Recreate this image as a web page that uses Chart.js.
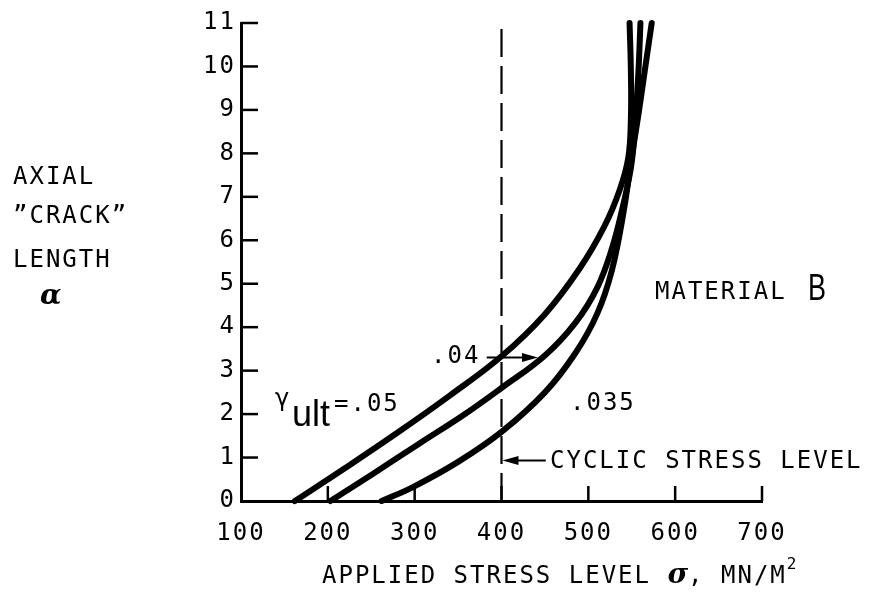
<!DOCTYPE html>
<html>
<head>
<meta charset="utf-8">
<script src="https://cdn.jsdelivr.net/npm/chart.js@4/dist/chart.umd.min.js"></script>
<style>
  body { margin: 0; background: #fff; }
</style>
</head>
<body>
<canvas id="chart" width="878" height="599"></canvas>
<script>
// axis ticks
const stressTicks = [100, 200, 300, 400, 500, 600, 700];
const crackTicks = [0, 1, 2, 3, 4, 5, 6, 7, 8, 9, 10, 11];

// gamma ult = .05
const g05Stress = [162, 220, 280, 340, 400, 450, 490, 518, 536, 546, 549, 549, 547.5];
const g05Crack  = [0, 0.76, 1.57, 2.42, 3.33, 4.3, 5.35, 6.3, 7.15, 7.9, 8.8, 9.9, 11];

// gamma ult = .04
const g04Stress = [203, 250, 306, 355, 400, 450, 485, 510, 527, 540, 550, 555, 558, 560];
const g04Crack  = [0, 0.6, 1.33, 1.96, 2.6, 3.35, 4.1, 4.9, 5.8, 6.8, 7.8, 9.0, 10.0, 11];

// gamma ult = .035
const g035Stress = [262, 298, 350, 400, 450, 485, 510, 527, 541, 549, 557, 565, 573];
const g035Crack  = [0, 0.32, 0.9, 1.59, 2.5, 3.4, 4.3, 5.3, 6.7, 7.8, 8.8, 9.9, 11];

// cyclic stress level marker
const cyclicStress = 400;
const cyclicRange = [0, 11];

function pts(xs, ys) {
    return xs.map((v, i) => ({x: v, y: ys[i]}));
}

const mono = '"DejaVu Sans Mono", monospace';

function curve(xs, ys) {
    return {
        data: pts(xs, ys),
        showLine: true,
        borderColor: '#000',
        borderWidth: 6,
        borderCapStyle: 'round',
        pointRadius: 0,
        tension: 0.4,
        fill: false,
        clip: false
    };
}

function arrowHead(ctx, x, y, dir) {
    ctx.beginPath();
    ctx.moveTo(x, y);
    ctx.lineTo(x - dir * 16, y - 4.5);
    ctx.lineTo(x - dir * 16, y + 4.5);
    ctx.closePath();
    ctx.fill();
}

const paperMarks = {
    id: 'paperMarks',
    beforeDraw(chart) {
        chart.ctx.letterSpacing = '2px';
    },
    afterDraw(chart) {
        const {ctx, chartArea: a, scales: {x, y}} = chart;
        ctx.save();
        ctx.strokeStyle = '#000';
        ctx.fillStyle = '#000';
        ctx.lineWidth = 2.5;

        // inward tick marks
        stressTicks.slice(1).forEach(v => {
            const px = x.getPixelForValue(v);
            ctx.beginPath();
            ctx.moveTo(px, a.bottom);
            ctx.lineTo(px, a.bottom - 15);
            ctx.stroke();
        });
        crackTicks.slice(1).forEach(v => {
            const py = y.getPixelForValue(v);
            ctx.beginPath();
            ctx.moveTo(a.left, py);
            ctx.lineTo(a.left + 17, py);
            ctx.stroke();
        });

        // .04 pointer
        ctx.lineWidth = 2;
        let y1 = y.getPixelForValue(3.3);
        let x1 = x.getPixelForValue(383), x2 = x.getPixelForValue(442);
        ctx.beginPath();
        ctx.moveTo(x1, y1);
        ctx.lineTo(x2 - 10, y1);
        ctx.stroke();
        arrowHead(ctx, x2, y1, 1);

        // cyclic stress level pointer
        y1 = y.getPixelForValue(0.93);
        x1 = x.getPixelForValue(451);
        x2 = x.getPixelForValue(cyclicStress) + 1;
        ctx.beginPath();
        ctx.moveTo(x1, y1);
        ctx.lineTo(x2 + 10, y1);
        ctx.stroke();
        arrowHead(ctx, x2, y1, -1);

        ctx.textBaseline = 'middle';
        ctx.textAlign = 'left';
        ctx.letterSpacing = '2px';
        ctx.font = '24px ' + mono;
        ctx.fillText('CYCLIC STRESS LEVEL', 550, 462);
        ctx.fillText('.04', 431, 357);
        ctx.fillText('.035', 570, 404);
        ctx.fillText('=.05', 334, 405);
        ctx.fillText('MATERIAL', 655, 293);

        ctx.fillText('AXIAL', 13, 178);
        ctx.fillText('\u201DCRACK\u201D', 13, 217);
        ctx.fillText('LENGTH', 13, 261);

        ctx.letterSpacing = '0px';
        ctx.font = 'bold italic 28px "DejaVu Serif", serif';
        ctx.fillText('\u03B1', 40, 297);

        ctx.font = '24px "DejaVu Sans", sans-serif';
        ctx.fillText('\u03B3', 275, 400);
        ctx.font = '36px "Liberation Sans", sans-serif';
        ctx.fillText('ult', 292, 416);

        ctx.save();
        ctx.translate(808, 290);
        ctx.scale(0.75, 1);
        ctx.font = '36px "Liberation Sans", sans-serif';
        ctx.fillText('B', 0, 0);
        ctx.restore();

        // x axis title
        ctx.letterSpacing = '2px';
        ctx.font = '24px ' + mono;
        let tx = 322;
        const ty = 577;
        ctx.fillText('APPLIED STRESS LEVEL ', tx, ty);
        tx += ctx.measureText('APPLIED STRESS LEVEL ').width;
        ctx.letterSpacing = '0px';
        ctx.font = 'bold italic 28px "DejaVu Serif", serif';
        ctx.fillText('\u03C3', tx, ty - 1);
        tx += ctx.measureText('\u03C3').width;
        ctx.letterSpacing = '2px';
        ctx.font = '24px ' + mono;
        ctx.fillText(', MN/M', tx, ty);
        tx += ctx.measureText(', MN/M').width;
        ctx.font = '16px ' + mono;
        ctx.fillText('2', tx, ty - 12);

        ctx.restore();
    }
};

const data = {
    datasets: [
        curve(g05Stress, g05Crack),
        curve(g04Stress, g04Crack),
        curve(g035Stress, g035Crack),
        {
            data: cyclicRange.map(v => ({x: cyclicStress, y: v})),
            showLine: true,
            borderColor: '#000',
            borderWidth: 2.2,
            borderDash: [28, 9],
            pointRadius: 0,
            tension: 0,
            clip: false
        }
    ]
};

const config = {
    type: 'scatter',
    data: data,
    options: {
        responsive: false,
        animation: false,
        events: [],
        layout: {
            padding: {top: 23, right: 116, left: 0, bottom: 0}
        },
        plugins: {
            legend: {display: false},
            tooltip: {enabled: false}
        },
        scales: {
            x: {
                type: 'linear',
                min: 100,
                max: 700,
                afterFit(scale) { scale.height = 98; },
                afterBuildTicks(scale) { scale.ticks = stressTicks.map(v => ({value: v})); },
                ticks: {
                    color: '#000',
                    font: {family: mono, size: 24},
                    padding: 18,
                    maxRotation: 0
                },
                grid: {display: false, drawTicks: false},
                border: {display: true, color: '#000', width: 3}
            },
            y: {
                type: 'linear',
                min: 0,
                max: 11,
                afterFit(scale) { scale.width = 241; },
                afterBuildTicks(scale) { scale.ticks = crackTicks.map(v => ({value: v})); },
                ticks: {
                    color: '#000',
                    font: {family: mono, size: 24},
                    padding: 5
                },
                grid: {display: false, drawTicks: false},
                border: {display: true, color: '#000', width: 3}
            }
        }
    },
    plugins: [paperMarks]
};

new Chart(document.getElementById('chart').getContext('2d'), config);
</script>
</body>
</html>
